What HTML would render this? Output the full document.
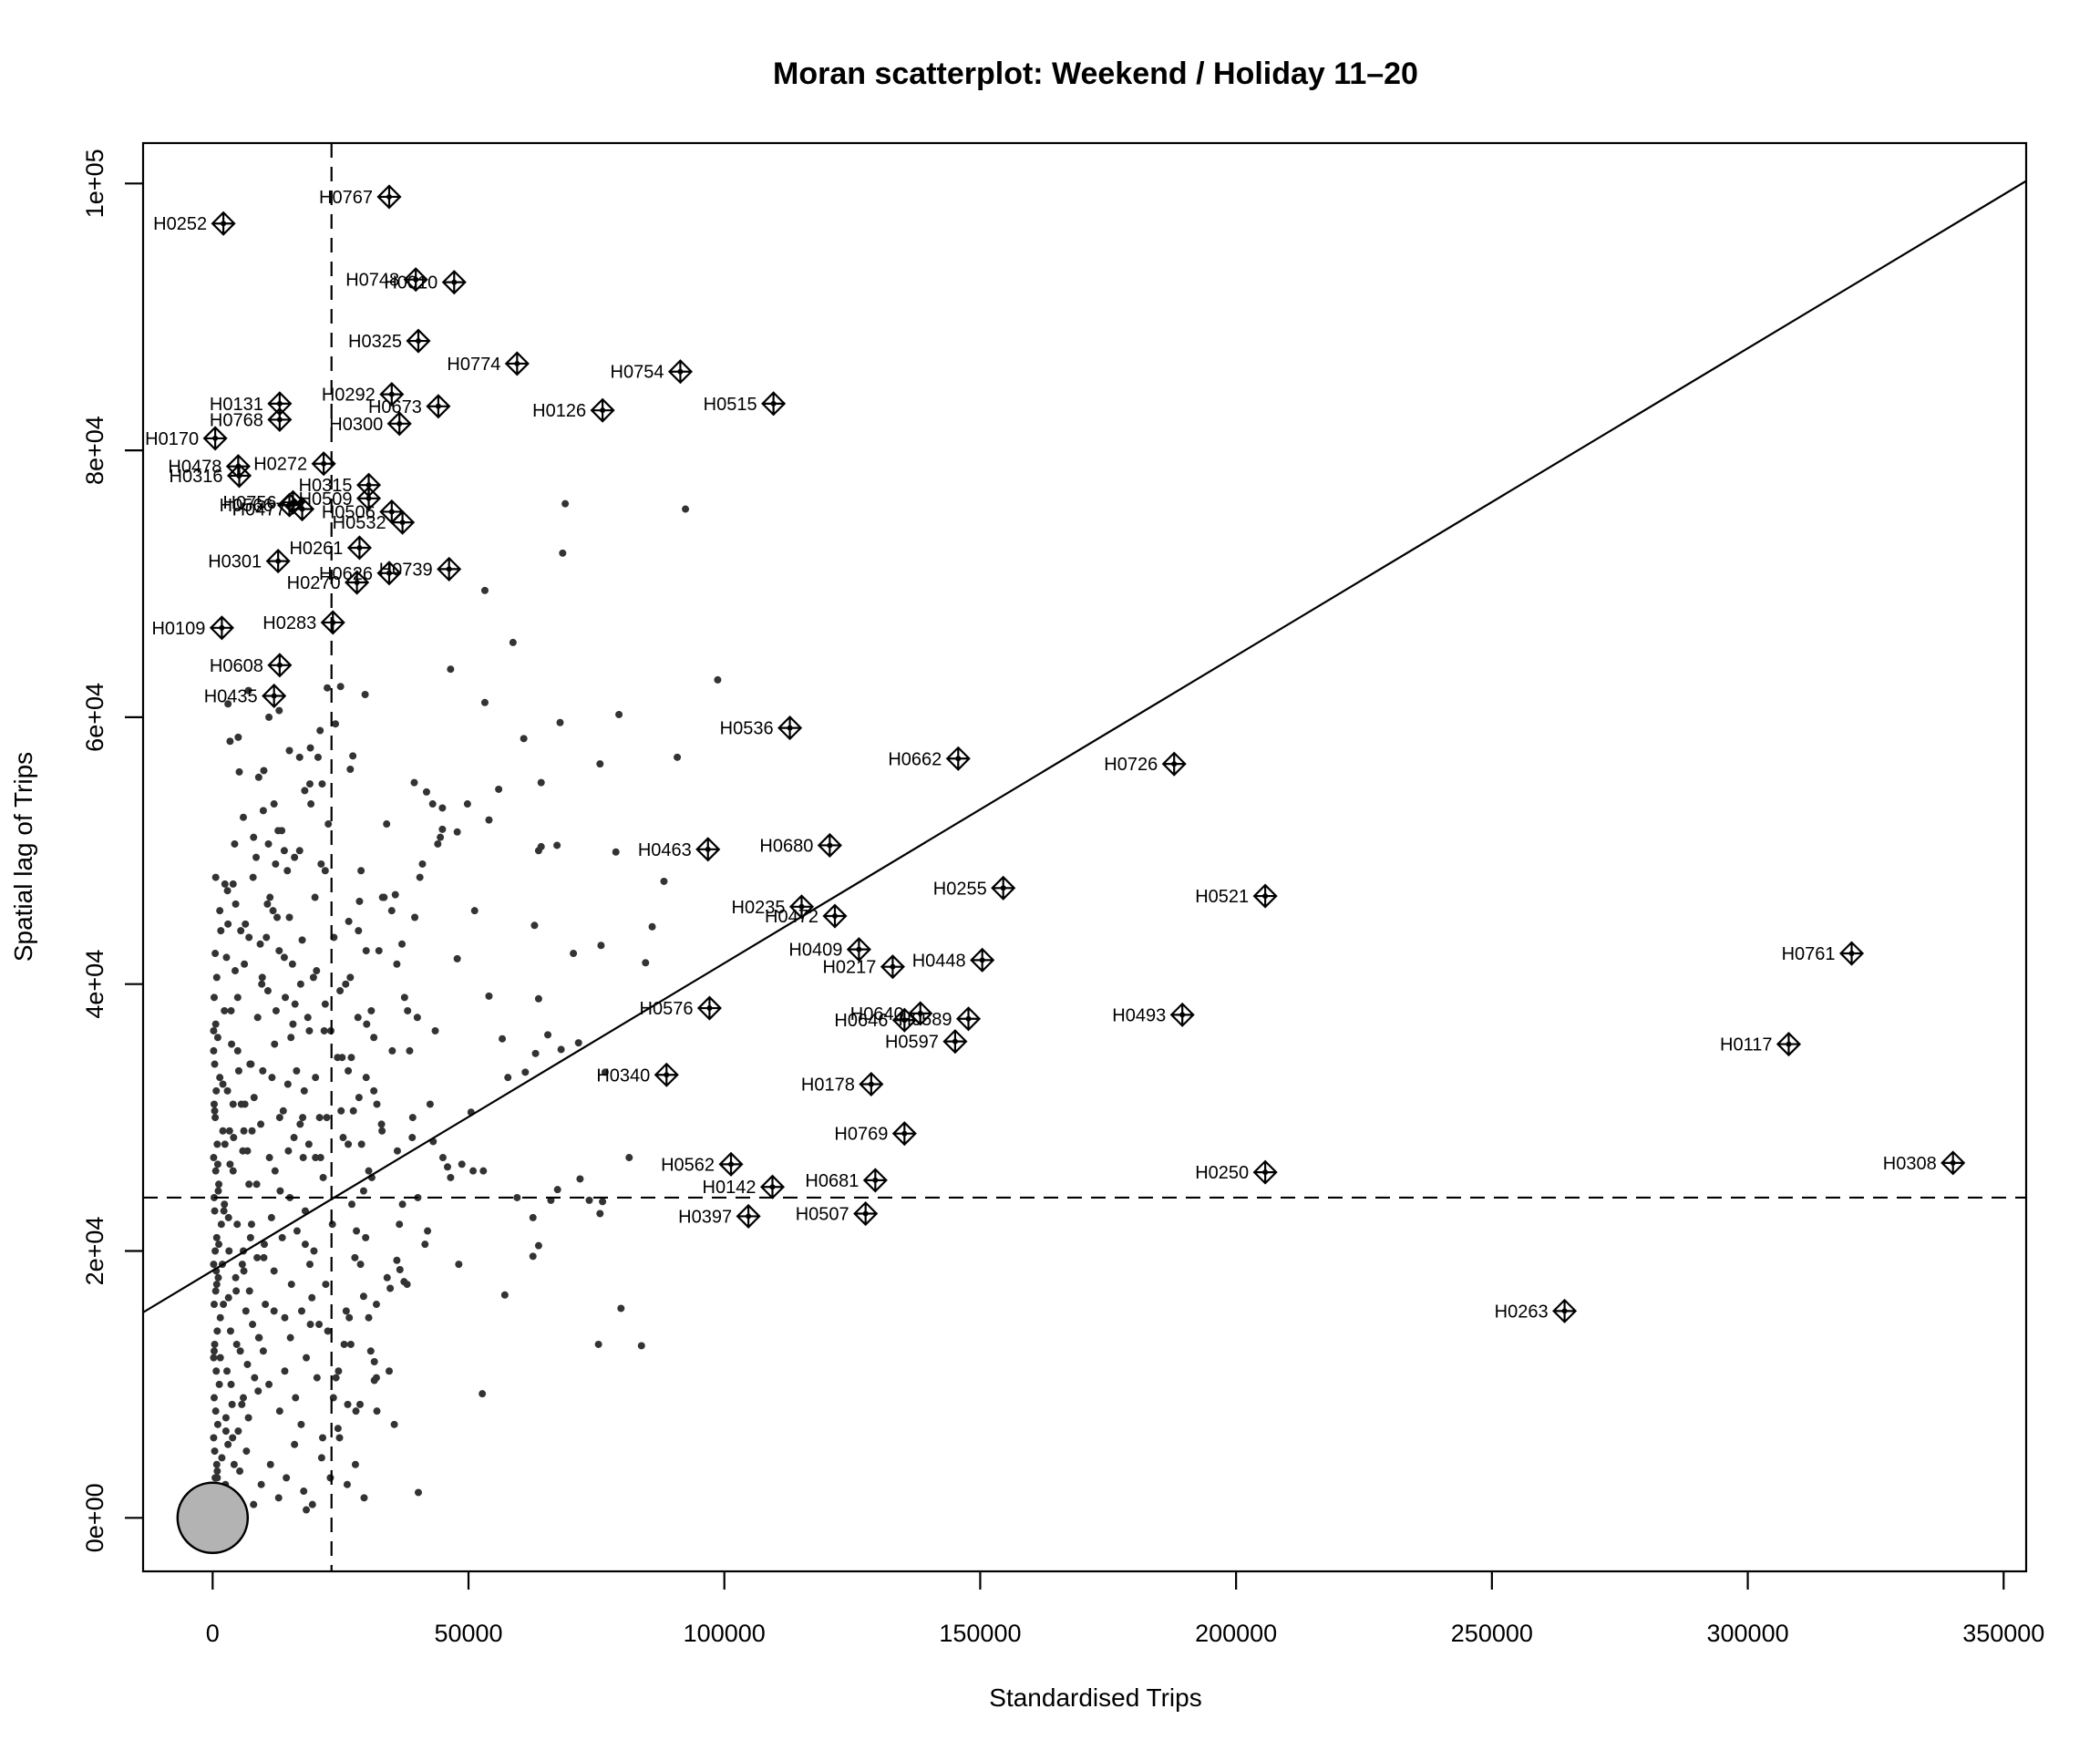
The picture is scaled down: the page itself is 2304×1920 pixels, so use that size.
<!DOCTYPE html>
<html><head><meta charset="utf-8"><title>Moran scatterplot</title>
<style>html,body{margin:0;padding:0;background:#fff}svg{display:block}text{font-family:"Liberation Sans",Arial,sans-serif}</style></head>
<body>
<svg id="chart" width="2304" height="1920" viewBox="0 0 2304 1920">
<text x="1202" y="92" text-anchor="middle" font-size="34" font-weight="bold">Moran scatterplot: Weekend / Holiday 11–20</text>
<text x="1202" y="1891" text-anchor="middle" font-size="28" transform="translate(0,-19)">Standardised Trips</text>
<text transform="translate(35,940) rotate(-90)" text-anchor="middle" font-size="28">Spatial lag of Trips</text>
<g id="plot"></g>
</svg>
<script>
const xTicks=[0,50000,100000,150000,200000,250000,300000,350000];
const xTickLabels=["0","50000","100000","150000","200000","250000","300000","350000"];
const yTicks=[0,20000,40000,60000,80000,100000];
const yTickLabels=["0e+00","2e+04","4e+04","6e+04","8e+04","1e+05"];
const meanX=23230, meanY=24000;
const slope=0.2304, intercept=18530;
const labelNames=["H0767","H0252","H0748","H0010","H0325","H0774","H0754","H0515","H0126","H0292","H0673","H0300","H0131","H0768","H0170","H0478","H0316","H0272","H0315","H0509","H0756","H0566","H0477","H0506","H0532","H0261","H0301","H0739","H0626","H0270","H0283","H0109","H0608","H0435","H0536","H0662","H0726","H0463","H0680","H0255","H0521","H0235","H0472","H0409","H0217","H0448","H0761","H0576","H0640","H0646","H0589","H0597","H0493","H0117","H0340","H0178","H0769","H0562","H0681","H0142","H0397","H0507","H0250","H0308","H0263"];
const labelX=[34.5,2.1,39.7,47.2,40.2,59.5,91.4,109.6,76.2,35.0,44.1,36.5,13.1,13.1,0.5,5.0,5.2,21.7,30.5,30.5,15.7,15.0,17.5,35.0,37.1,28.7,12.8,46.2,34.5,28.2,23.5,1.8,13.1,12.0,112.8,145.7,187.9,96.8,120.6,154.5,205.7,115.1,121.6,126.3,132.9,150.4,320.3,97.1,138.3,135.2,147.7,145.1,189.5,308.0,88.7,128.7,135.2,101.3,129.5,109.4,104.7,127.6,205.7,340.1,264.2];
const labelY=[99.0,97.0,92.8,92.6,88.2,86.5,85.9,83.5,83.0,84.2,83.3,82.0,83.5,82.3,80.9,78.8,78.1,79.0,77.4,76.4,76.1,75.9,75.6,75.4,74.6,72.7,71.7,71.1,70.8,70.1,67.1,66.7,63.9,61.6,59.2,56.9,56.5,50.1,50.4,47.2,46.6,45.8,45.1,42.6,41.3,41.8,42.3,38.2,37.8,37.3,37.4,35.7,37.7,35.5,33.2,32.5,28.8,26.5,25.3,24.8,22.6,22.8,25.9,26.6,15.5];
const dotX=[68.9,92.4,68.4,53.2,58.7,46.5,98.7,22.4,25.0,29.8,53.2,79.4,67.9,60.8,90.8,75.7,3.4,5.2,19.1,27.4,26.9,39.4,41.8,64.2,55.9,44.9,49.8,54.0,47.8,44.9,64.2,67.3,63.7,78.8,88.2,85.9,62.9,35.7,28.7,26.6,17.5,51.2,47.8,70.5,75.9,84.6,63.7,54.0,56.6,65.5,71.5,68.1,63.1,76.7,57.7,61.1,50.5,43.1,45.9,81.4,71.8,67.4,76.2,75.7,73.6,66.1,59.5,52.9,50.9,48.7,48.1,36.6,36.0,37.4,34.7,29.5,62.6,63.7,57.1,79.8,75.4,83.8,62.6,52.7,40.2,32.1,31.6,18.3,24.5,26.4,31.6,
 0.2,0.3,0.5,0.8,0.4,0.2,1.0,0.6,0.3,1.3,0.7,0.2,0.4,0.9,1.5,0.3,0.6,1.1,0.2,0.5,0.8,1.7,0.4,0.3,1.2,0.6,0.2,0.9,2.0,0.5,0.3,0.7,1.4,0.4,0.2,1.0,0.6,2.3,0.3,0.8,0.5,1.6,0.2,0.4,1.1,0.7,0.3,2.6,0.9,0.5,
 2.5,3.0,3.8,4.2,2.8,3.5,5.0,4.6,3.2,2.2,6.0,5.4,4.0,3.3,2.9,7.0,6.5,5.8,4.9,8.2,7.6,6.8,9.0,3.6,4.4,5.5,2.4,6.3,7.3,8.8,9.6,10.5,11.2,12.3,13.5,14.6,9.9,10.9,11.8,13.0,14.2,15.3,16.4,17.6,18.8,19.7,20.6,21.4,22.6,24.0,
 2.1,3.1,4.1,5.1,6.1,7.1,8.1,9.1,10.1,11.1,12.1,13.1,14.1,15.1,16.1,17.1,18.1,19.1,20.1,21.1,22.1,23.1,24.1,25.1,26.1,27.1,28.1,29.1,30.1,31.1,32.1,33.1,34.1,35.1,36.1,37.1,38.1,39.1,40.1,
 1.5,2.6,3.6,4.7,5.7,6.8,7.8,8.9,9.9,11.0,12.0,13.1,14.1,15.2,16.2,17.3,18.3,19.4,20.4,21.5,22.5,23.6,24.6,25.7,26.7,27.8,28.8,29.9,30.9,32.0,
 3.0,4.5,6.2,7.9,9.3,10.8,12.6,14.0,15.7,17.2,18.9,20.3,22.0,23.7,25.3,26.9,28.4,30.0,31.5,33.2,
 0.9,1.8,2.7,3.9,5.3,6.6,8.0,9.5,11.3,12.9,14.4,16.0,17.8,19.5,21.3,23.0,24.8,26.3,27.9,29.6,
 1.2,2.3,3.4,4.8,6.1,7.4,8.6,10.0,11.5,13.2,14.8,16.5,18.1,19.8,21.6,23.4,25.5,27.2,28.9,30.5,
 2.0,3.7,5.6,7.5,9.4,11.6,13.8,15.9,17.9,20.1,22.3,24.4,26.5,28.6,
 0.6,1.4,2.9,4.3,6.4,8.5,10.7,12.8,15.0,17.0,19.2,21.2,
 0.8,1.9,3.1,4.5,6.0,7.2,8.7,10.3,12.0,13.6,15.4,17.4,19.0,20.8,
 2.7,4.9,7.1,9.7,12.4,15.6,18.6,21.8,24.9,
 1.0,2.4,4.0,5.9,7.7,9.8,12.2,14.7,17.7,20.9,
 26.0,28.5,31.0,33.5,36.0,38.5,41.0,43.5,27.5,30.0,32.5,35.0,37.5,40.0,42.5,45.0,29.0,34.0,39.0,44.0,26.5,31.5,36.5,41.5,46.5,
 27.0,30.5,34.5,38.0,42.0,29.5,33.0,37.0,40.5,44.5,28.0,32.0,35.5,39.5,43.0,
 4.0,8.0,12.0,16.0,20.0,6.0,10.0,14.0,18.0,22.0,5.0,9.0,13.0,17.0,21.0,7.0,11.0,15.0,19.0,3.0];
const dotY=[76.0,75.6,72.3,69.5,65.6,63.6,62.8,62.2,62.3,61.7,61.1,60.2,59.6,58.4,57.0,56.5,58.2,55.9,57.7,57.1,56.1,55.1,54.4,55.1,54.6,53.2,53.5,52.3,51.4,51.6,50.3,50.4,50.0,49.9,47.7,44.3,44.4,46.7,46.2,44.7,43.3,45.5,41.9,42.3,42.9,41.6,38.9,39.1,35.9,36.2,35.6,35.1,34.8,33.4,33.0,33.4,30.4,28.2,26.3,27.0,25.4,24.6,23.7,22.8,23.8,23.8,24.0,26.0,26.0,26.5,19.0,18.6,19.3,17.7,17.2,16.6,22.5,20.4,16.7,15.7,13.0,12.9,19.6,9.3,1.9,8.0,11.7,0.6,6.7,8.5,10.3,
 1.0,2.0,3.0,4.0,5.0,6.0,7.0,8.0,9.0,10.0,11.0,12.0,13.0,14.0,15.0,16.0,17.0,18.0,19.0,20.0,21.0,22.0,23.0,24.0,25.0,26.0,27.0,28.0,29.0,30.0,31.0,32.0,33.0,34.0,35.0,36.0,37.0,38.0,39.0,40.5,42.3,44.0,36.5,30.5,24.5,18.5,12.5,6.5,3.5,1.5,
 2.5,5.5,8.5,4.0,11.0,14.0,6.5,17.0,20.0,23.0,9.0,12.5,26.0,29.0,32.0,7.5,15.5,19.0,35.0,10.5,22.0,27.5,13.5,38.0,41.0,44.0,47.5,31.0,34.0,37.5,40.0,43.5,46.5,49.0,51.5,48.5,53.0,50.5,45.5,42.5,39.0,36.0,33.5,30.0,28.0,40.5,57.0,55.0,52.0,59.5,
 16.0,22.5,28.5,33.5,18.5,25.0,31.5,13.5,20.5,27.0,35.5,30.0,15.0,24.0,38.5,29.5,20.5,14.5,33.0,27.0,17.5,36.5,10.5,30.5,15.5,34.5,21.5,28.0,37.0,25.5,31.0,29.0,18.0,35.0,27.5,23.5,38.0,30.0,24.0,
 12.0,7.5,10.0,13.0,8.5,11.5,14.5,9.5,12.5,10.0,15.5,8.0,11.0,13.5,9.0,7.0,12.0,16.5,10.5,6.0,14.0,9.0,11.0,13.0,15.0,19.5,8.5,21.0,12.5,16.0,
 44.5,46.0,41.5,48.0,43.0,39.5,45.0,42.0,37.0,40.0,36.5,41.0,38.5,43.5,34.5,40.5,37.5,42.5,32.0,46.5,
 3.0,4.5,2.0,6.0,3.5,5.0,1.0,2.5,4.0,1.5,3.0,5.5,2.0,1.0,4.5,3.0,6.0,2.5,4.0,1.5,
 20.5,23.5,26.5,22.0,29.0,21.0,25.0,19.5,22.5,24.5,27.5,21.5,23.0,20.0,25.5,22.0,28.5,23.5,19.0,26.0,
 32.5,35.5,31.0,34.0,29.5,33.0,30.5,28.5,32.0,27.0,30.0,34.5,28.0,31.5,
 48.0,45.5,47.0,50.5,44.5,49.5,46.0,51.5,45.0,50.0,53.5,49.0,
 17.5,19.0,16.5,18.0,20.0,17.0,19.5,16.0,18.5,21.0,17.5,15.5,19.0,14.5,
 42.0,39.0,43.5,40.5,38.0,41.5,37.5,36.5,39.5,
 26.5,28.0,31.0,27.5,29.0,33.5,26.0,32.5,27.0,30.0,
 40.0,44.0,38.0,46.5,41.5,35.0,49.0,36.5,30.5,33.0,42.5,45.5,39.0,37.5,31.0,27.0,48.5,52.0,28.5,50.5,33.5,36.0,22.0,20.5,25.5,
 13.0,15.0,11.0,17.5,21.5,24.5,29.5,43.0,48.0,51.0,8.0,10.5,7.0,45.0,53.5,
 47.5,51.0,53.5,49.5,46.5,52.5,56.0,50.0,54.5,48.5,58.5,55.5,60.5,57.0,59.0,62.0,60.0,57.5,55.0,61.0];
const NS="http://www.w3.org/2000/svg";
const L=157,R=2223,T=157,B=1724;
const X0=233.3, XS=0.0056142, Y0=1665.3, YS=0.01464;
function sx(v){return X0+v*XS;}
function sy(v){return Y0-v*YS;}
const g=document.getElementById('plot');
function mk(tag,attrs,parent){const e=document.createElementNS(NS,tag);for(const k in attrs)e.setAttribute(k,attrs[k]);(parent||g).appendChild(e);return e;}
const defs=mk('defs',{});const cp=mk('clipPath',{id:'clip'},defs);mk('rect',{x:L,y:T,width:R-L,height:B-T},cp);
const inner=mk('g',{'clip-path':'url(#clip)'});


for(let i=0;i<dotX.length;i++){
 const c=mk('circle',{cx:sx(dotX[i]*1000),cy:sy(dotY[i]*1000),r:4,fill:'#333'},inner);
 
 
}
const big=mk('circle',{cx:sx(0),cy:sy(0),r:38.5,fill:'#b3b3b3',stroke:'#000','stroke-width':2.5},inner);


const x1=-20000,x2=380000;
const rl=mk('line',{x1:sx(x1),y1:sy(intercept+slope*x1),x2:sx(x2),y2:sy(intercept+slope*x2),stroke:'#000','stroke-width':2.2},inner);


const vl=mk('line',{x1:sx(meanX),y1:T,x2:sx(meanX),y2:B,stroke:'#000','stroke-width':2.2,'stroke-dasharray':'16,10'},inner);


const hl=mk('line',{x1:L,y1:sy(meanY),x2:R,y2:sy(meanY),stroke:'#000','stroke-width':2.2,'stroke-dasharray':'16,10'},inner);


for(let i=0;i<labelNames.length;i++){
 const cx=sx(labelX[i]*1000),cy=sy(labelY[i]*1000),s=12;
 const grp=mk('g',{});
 
 
 mk('path',{d:`M${cx-s},${cy}L${cx},${cy-s}L${cx+s},${cy}L${cx},${cy+s}Z M${cx-s},${cy}H${cx+s} M${cx},${cy-s}V${cy+s}`,fill:'none',stroke:'#000','stroke-width':2.2},grp);
 mk('circle',{cx:cx,cy:cy,r:3,fill:'#000'},grp);
 const t=mk('text',{x:cx-18,y:cy+7,'text-anchor':'end','font-size':20},grp);
 t.textContent=labelNames[i];
}
const box=mk('rect',{x:L,y:T,width:R-L,height:B-T,fill:'none',stroke:'#000','stroke-width':2.2});


for(let i=0;i<xTicks.length;i++){
 const x=sx(xTicks[i]);
 const tk=mk('line',{x1:x,y1:B,x2:x,y2:B+20,stroke:'#000','stroke-width':2.2});
 
 
 const t=mk('text',{x:x,y:1801,'text-anchor':'middle','font-size':27});
 
 
 t.textContent=xTickLabels[i];
}
for(let i=0;i<yTicks.length;i++){
 const y=sy(yTicks[i]);
 const tk=mk('line',{x1:L,y1:y,x2:L-20,y2:y,stroke:'#000','stroke-width':2.2});
 
 
 const t=mk('text',{transform:`translate(113,${y}) rotate(-90)`,'text-anchor':'middle','font-size':27});
 
 
 t.textContent=yTickLabels[i];
}
</script>
</body></html>
